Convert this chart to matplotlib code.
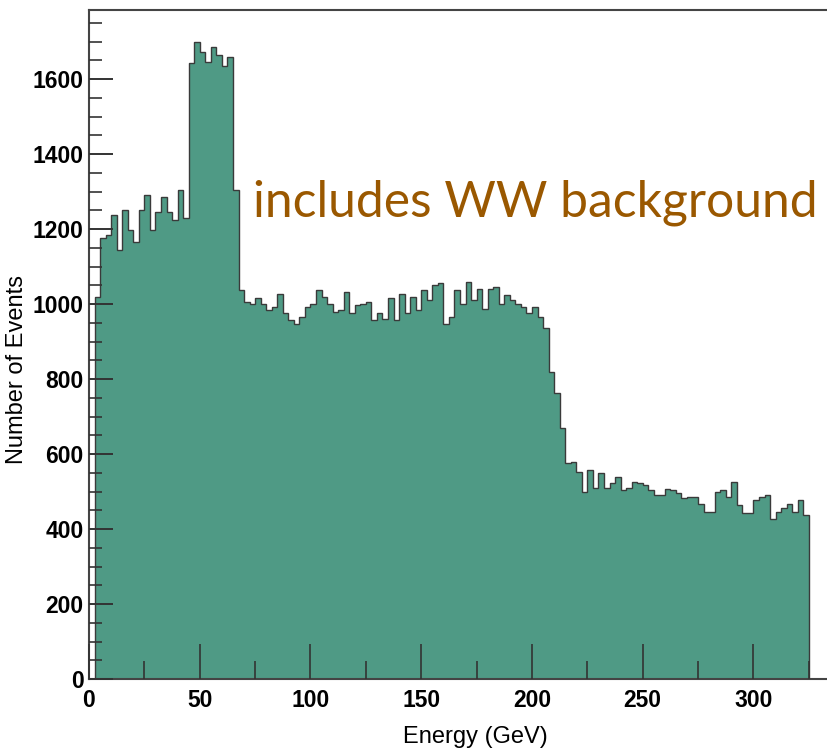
import matplotlib.pyplot as plt
import numpy as np

# energy binning (GeV)
bin_start = 2.5
bin_width = 2.5

# events per bin
low = [1020, 1176, 1185, 1237, 1144, 1250, 1197, 1165, 1250, 1290, 1197,
       1245, 1285, 1245, 1225, 1305, 1230]
peak = [1643, 1699, 1672, 1645, 1685, 1664, 1635, 1660, 1305]
flat1 = [1037, 1006, 1000, 1015, 1000, 984, 993, 1028, 975, 957, 948, 966,
         993, 1000, 1037, 1019, 1000, 979, 985, 1032, 975, 997, 1000, 1006,
         957, 975, 960, 1015, 957]
flat2 = [1028, 975, 1019, 984, 1037, 1010, 1050, 1055, 948, 966, 1037, 1000,
         1059, 1010, 1041, 988, 1041, 1046, 1000, 1024, 1012, 1000, 993, 975]
edge = [992, 965, 935, 819, 762, 670, 576, 580, 552, 499, 557, 509, 549,
        509, 523, 539, 504, 510]
tail = [526, 522, 517, 505, 491, 491, 508, 504, 495, 482, 486, 486, 468,
        446, 446, 500, 504, 486, 526, 464, 442, 442, 477, 486, 491, 428,
        446, 455, 468, 446, 477, 437]

counts = np.array(low + peak + flat1 + flat2 + edge + tail)
edges = bin_start + bin_width * np.arange(len(counts) + 1)

yticks = [0, 200, 400, 600, 800, 1000, 1200, 1400, 1600]
xticks = [0, 50, 100, 150, 200, 250, 300]

tick_font = ['Liberation Sans Narrow', 'Liberation Sans', 'DejaVu Sans']

fig = plt.figure(figsize=(8.28, 7.51), dpi=100)
ax = fig.add_axes([89/828, 72/751, 742/828, 669/751])

ax.stairs(counts, edges, fill=True, color='#4f9a85', zorder=1)
ax.stairs(counts, edges, color='#3a3a3a', lw=1.0, zorder=2)

ax.set_xlim(0, 335)
ax.set_ylim(0, 1784)

ax.set_xticks(xticks)
ax.set_yticks(yticks)
ax.set_xticks(np.arange(0, 335, 25), minor=True)
ax.set_yticks(np.arange(0, 1784, 50), minor=True)
ax.tick_params(axis='both', which='both', direction='in', color='#333333',
               top=False, right=False)
ax.tick_params(axis='y', which='major', length=17, width=1.4, pad=4)
ax.tick_params(axis='y', which='minor', length=9, width=1.2)
ax.tick_params(axis='x', which='major', length=25, width=1.2, pad=7)
ax.tick_params(axis='x', which='minor', length=13, width=1.2)
for lab in ax.get_xticklabels() + ax.get_yticklabels():
    lab.set_family(tick_font)
    lab.set_fontsize(16.5)
    lab.set_fontweight('bold')

ax.spines['right'].set_visible(False)
for s in ['left', 'bottom', 'top']:
    ax.spines[s].set_color('#444444')
    ax.spines[s].set_linewidth(1.5)
ax.set_axisbelow(False)

fig.text(475/828, 1 - 737/751, 'Energy (GeV)', ha='center', va='center',
         fontsize=17, family=tick_font)
fig.text(17/828, 1 - 370/751, 'Number of Events', ha='center', va='center',
         rotation=90, fontsize=17, family=tick_font)

fig.text(253/828, 1 - 217/751, 'includes WW background', ha='left',
         va='baseline', fontsize=35.8, color='#9a5800', family='Lato')

fig.savefig('out.png', dpi=100)
